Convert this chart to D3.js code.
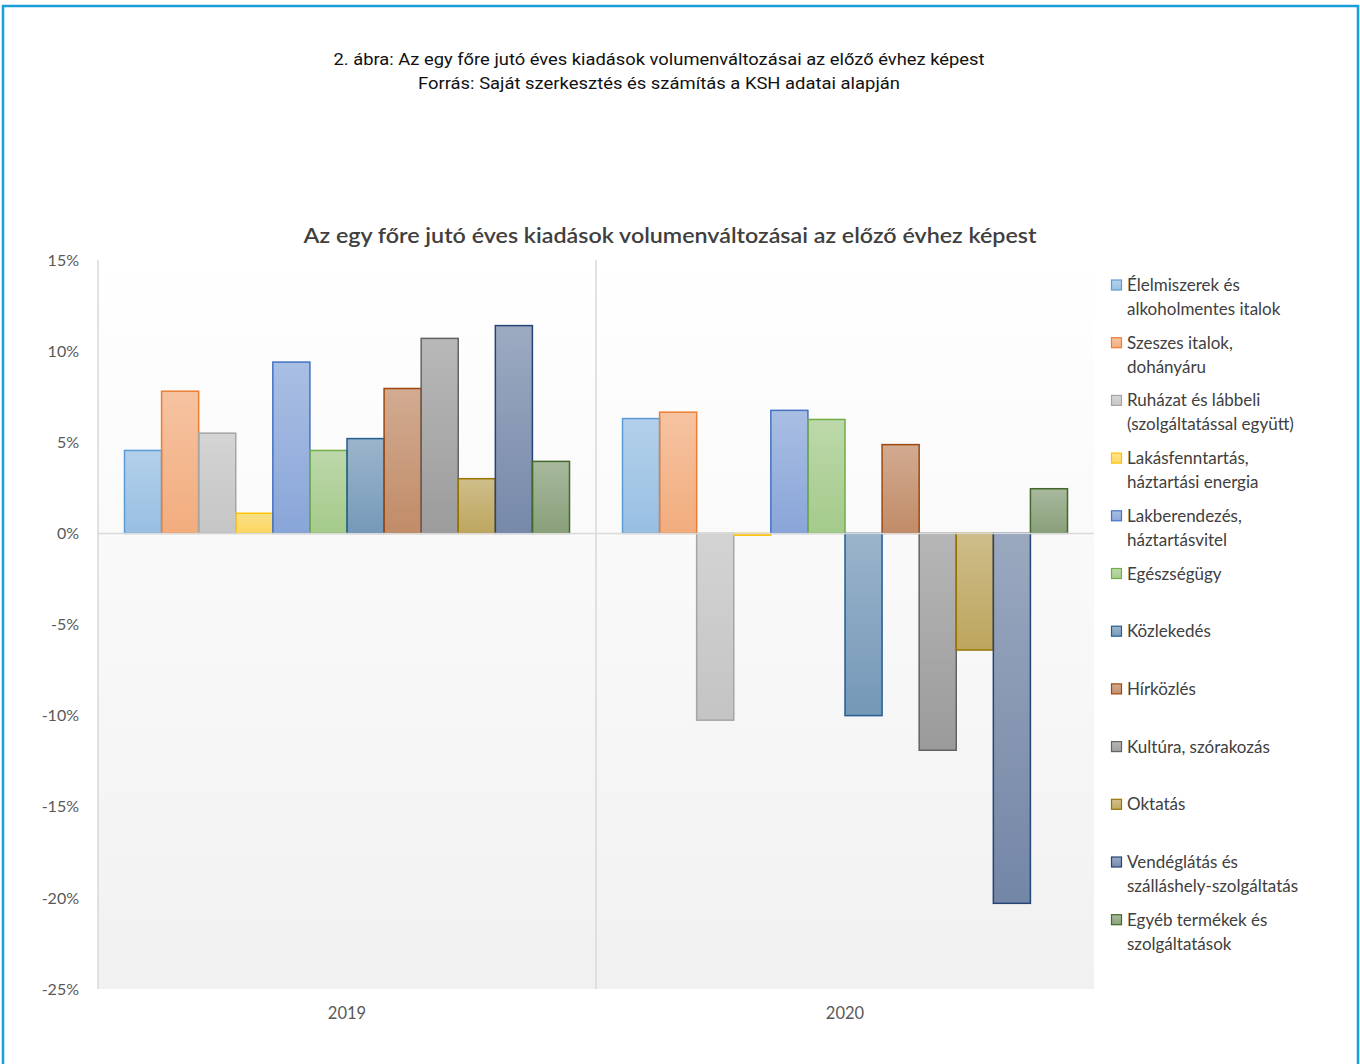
<!DOCTYPE html>
<html>
<head>
<meta charset="utf-8">
<script src="https://cdn.jsdelivr.net/npm/d3@7"></script>
<style>
  body { margin: 0; background: #fff; }
  svg { display: block; }
</style>
</head>
<body>
<div id="chart"></div>
<script>
const years = ["2019", "2020"];

const categories = [
  "Élelmiszerek és alkoholmentes italok",
  "Szeszes italok, dohányáru",
  "Ruházat és lábbeli (szolgáltatással együtt)",
  "Lakásfenntartás, háztartási energia",
  "Lakberendezés, háztartásvitel",
  "Egészségügy",
  "Közlekedés",
  "Hírközlés",
  "Kultúra, szórakozás",
  "Oktatás",
  "Vendéglátás és szálláshely-szolgáltatás",
  "Egyéb termékek és szolgáltatások"
];

// legend text split the way it wraps in the original
const legendLines = [
  ["Élelmiszerek és", "alkoholmentes italok"],
  ["Szeszes italok,", "dohányáru"],
  ["Ruházat és lábbeli", "(szolgáltatással együtt)"],
  ["Lakásfenntartás,", "háztartási energia"],
  ["Lakberendezés,", "háztartásvitel"],
  ["Egészségügy"],
  ["Közlekedés"],
  ["Hírközlés"],
  ["Kultúra, szórakozás"],
  ["Oktatás"],
  ["Vendéglátás és", "szálláshely-szolgáltatás"],
  ["Egyéb termékek és", "szolgáltatások"]
];

const values2019 = [4.55, 7.8, 5.5, 1.1, 9.4, 4.55, 5.2, 7.95, 10.7, 3.0, 11.4, 3.95];
const values2020 = [6.3, 6.65, -10.25, -0.1, 6.75, 6.25, -10.0, 4.87, -11.9, -6.4, -20.3, 2.45];

const yTicks = [15, 10, 5, 0, -5, -10, -15, -20, -25];

const colors = ["#5B9BD5", "#ED7D31", "#A5A5A5", "#FFC000", "#4472C4", "#70AD47",
                "#255E91", "#9E480E", "#636363", "#997300", "#264478", "#43682B"];

const W = 1360, H = 1064;
const plot = { left: 98, right: 1094, top: 260, bottom: 989 };
const font = "Lato, 'Open Sans', sans-serif";

const svg = d3.select("#chart").append("svg")
  .attr("width", W)
  .attr("height", H);

const defs = svg.append("defs");

// frame around the figure
svg.append("path")
  .attr("d", `M3,${H} V6 H1358 V${H}`)
  .attr("fill", "none")
  .attr("stroke", "#1A9FDB")
  .attr("stroke-width", 2.5);

// figure caption
const capFont = "Roboto, sans-serif";
svg.append("text")
  .attr("x", 659).attr("y", 65)
  .attr("text-anchor", "middle")
  .attr("font-family", capFont)
  .attr("font-size", 17)
  .attr("fill", "#111")
  .attr("textLength", 651)
  .attr("lengthAdjust", "spacingAndGlyphs")
  .text("2. ábra: Az egy főre jutó éves kiadások volumenváltozásai az előző évhez képest");

svg.append("text")
  .attr("x", 659).attr("y", 89)
  .attr("text-anchor", "middle")
  .attr("font-family", capFont)
  .attr("font-size", 17)
  .attr("fill", "#111")
  .attr("textLength", 482)
  .attr("lengthAdjust", "spacingAndGlyphs")
  .text("Forrás: Saját szerkesztés és számítás a KSH adatai alapján");

// chart title
svg.append("text")
  .attr("x", 670).attr("y", 243)
  .attr("text-anchor", "middle")
  .attr("font-family", font)
  .attr("font-weight", 600)
  .attr("font-size", 21)
  .attr("fill", "#404040")
  .attr("textLength", 733)
  .attr("lengthAdjust", "spacingAndGlyphs")
  .text("Az egy főre jutó éves kiadások volumenváltozásai az előző évhez képest");

// plot background gradient
const bg = defs.append("linearGradient")
  .attr("id", "bg").attr("x1", 0).attr("y1", 0).attr("x2", 0).attr("y2", 1);
bg.append("stop").attr("offset", 0).attr("stop-color", "#ffffff");
bg.append("stop").attr("offset", 1).attr("stop-color", "#f1f1f1");

svg.append("rect")
  .attr("x", plot.left).attr("y", plot.top)
  .attr("width", plot.right - plot.left)
  .attr("height", plot.bottom - plot.top)
  .attr("fill", "url(#bg)");

colors.forEach((c, i) => {
  const g = defs.append("linearGradient")
    .attr("id", "bar" + i).attr("x1", 0).attr("y1", 0).attr("x2", 0).attr("y2", 1);
  g.append("stop").attr("offset", 0).attr("stop-color", c).attr("stop-opacity", 0.45);
  g.append("stop").attr("offset", 1).attr("stop-color", c).attr("stop-opacity", 0.62);
});

const y = d3.scaleLinear()
  .domain([-25, 15])
  .range([plot.bottom, plot.top]);

const x0 = d3.scaleBand()
  .domain(years)
  .range([plot.left, plot.right])
  .padding(0);

const gap = 26.5;
const x1 = d3.scaleBand()
  .domain(categories)
  .range([gap, x0.bandwidth() - gap])
  .padding(0);

// y axis labels
const yAxis = svg.append("g")
  .attr("transform", `translate(${plot.left - 19},0)`)
  .call(d3.axisLeft(y).tickValues(yTicks).tickSize(0).tickPadding(0).tickFormat(d => d + "%"));
yAxis.select(".domain").remove();
yAxis.selectAll("text")
  .attr("font-family", font)
  .attr("font-size", 16)
  .attr("fill", "#595959");

// vertical lines: left edge and category separator
svg.selectAll(".vline")
  .data([plot.left, x0("2020")])
  .join("line")
  .attr("class", "vline")
  .attr("x1", d => d).attr("x2", d => d)
  .attr("y1", plot.top).attr("y2", plot.bottom)
  .attr("stroke", "#d9d9d9")
  .attr("stroke-width", 1.5);

// category labels
svg.selectAll(".xlabel")
  .data(years)
  .join("text")
  .attr("class", "xlabel")
  .attr("x", d => x0(d) + x0.bandwidth() / 2)
  .attr("y", 1019)
  .attr("text-anchor", "middle")
  .attr("font-family", font)
  .attr("font-size", 16.5)
  .attr("fill", "#595959")
  .text(d => d);

const rows = years.flatMap((yr, j) => {
  const vals = j === 0 ? values2019 : values2020;
  return categories.map((c, i) => ({ year: yr, cat: c, i, v: vals[i] }));
});

svg.append("g")
  .selectAll("rect")
  .data(rows)
  .join("rect")
  .attr("x", d => x0(d.year) + x1(d.cat))
  .attr("width", x1.bandwidth())
  .attr("y", d => y(Math.max(0, d.v)))
  .attr("height", d => Math.abs(y(d.v) - y(0)))
  .attr("fill", d => `url(#bar${d.i})`)
  .attr("stroke", d => colors[d.i])
  .attr("stroke-width", 1.5);

// zero line
svg.append("line")
  .attr("x1", plot.left).attr("x2", plot.right)
  .attr("y1", y(0)).attr("y2", y(0))
  .attr("stroke", "#d9d9d9")
  .attr("stroke-width", 1.5);

// legend
const legend = svg.append("g").attr("transform", "translate(1111,0)");
const item = legend.selectAll(".item")
  .data(legendLines)
  .join("g")
  .attr("class", "item")
  .attr("transform", (d, i) => `translate(0,${285 + i * 57.7})`);

item.append("rect")
  .attr("x", 0.5).attr("y", -5)
  .attr("width", 10).attr("height", 10)
  .attr("fill", (d, i) => `url(#bar${i})`)
  .attr("stroke", (d, i) => colors[i])
  .attr("stroke-width", 1.2);

item.append("text")
  .attr("font-family", font)
  .attr("font-size", 17)
  .attr("fill", "#404040")
  .selectAll("tspan")
  .data(d => d)
  .join("tspan")
  .attr("x", 16)
  .attr("y", (d, k) => 6 + k * 24)
  .text(d => d);
</script>
</body>
</html>
